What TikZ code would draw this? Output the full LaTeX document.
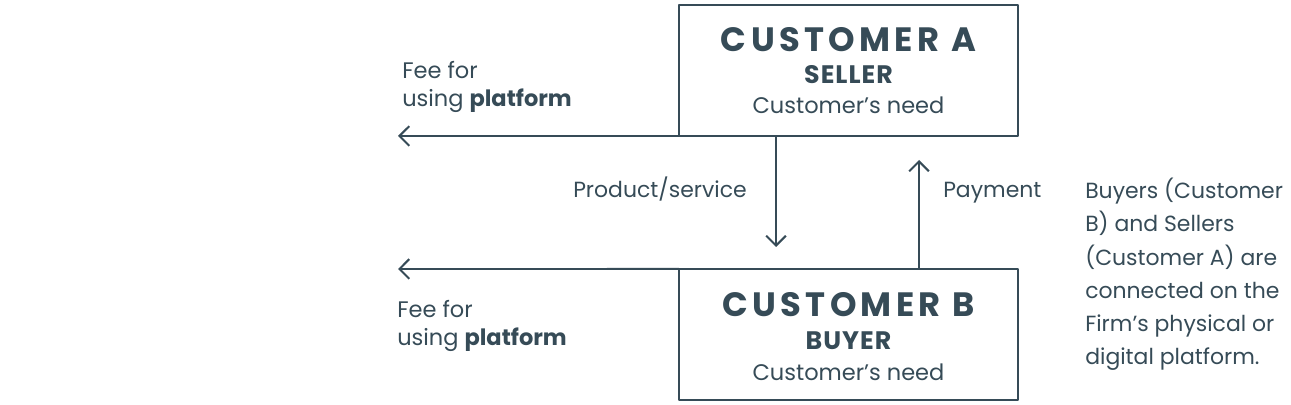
\documentclass[tikz,border=0pt]{standalone}
\usepackage{fontspec}
\setmainfont{Poppins}
\usetikzlibrary{arrows.meta, calc, positioning}
\definecolor{slate}{HTML}{364B57}

\begin{document}
\begin{tikzpicture}[x=0.025cm, y=-0.025cm, >={Straight Barb[length=7pt,width=14pt]},
	line cap=round, line join=round,
	every node/.style={text=slate},
	custbox/.style={draw=slate, line width=1.4pt, minimum width=8.475cm, minimum height=3.275cm, inner sep=0pt, outer sep=0pt},
	flow/.style={draw=slate, line width=1.4pt, ->},
	title/.style={font=\fontsize{24}{28}\selectfont\bfseries\addfontfeatures{LetterSpace=13}, anchor=base},
	role/.style={font=\fontsize{18}{20}\selectfont\bfseries\addfontfeatures{LetterSpace=4}, anchor=base},
	need/.style={font=\fontsize{16}{22}\selectfont, anchor=base},
	fee/.style={font=\fontsize{16}{20.5}\selectfont, anchor=base west, align=left, inner sep=0pt},
	lbl/.style={font=\fontsize{15.6}{23.7}\selectfont, anchor=base west, align=left, inner sep=0pt}]
\useasboundingbox (0,0) rectangle (1291,405);
%========================
% customers
%========================
\node[custbox] (custA) at (848.5,70.5) {};
\node[title] (titleA) at (848.5,52) {CUSTOMER A};
\node[role] (roleA) at (848.5,84) {SELLER};
\node[need] (needA) at (848.5,114) {Customer’s need};

\node[custbox] (custB) at (848.5,334.5) {};
\node[title] (titleB) at (848.5,317) {CUSTOMER B};
\node[role] (roleB) at (848.5,350) {BUYER};
\node[need] (needB) at (848.5,381) {Customer’s need};

%========================
% flows
%========================
\coordinate (feeA) at (398,136);
\coordinate (feeB) at (398,269);
\coordinate (prod) at (776,247);
\coordinate (pay) at (919,160);
\draw[flow] (custA.south west) -- (feeA);
\draw[flow] (custB.north west) -- (feeB);
\draw[flow] (custA.south -| prod) -- (prod);
\draw[flow] (custB.north -| pay) -- (pay);

% labels
\node[fee] (feeTxtA) at (402,107) {Fee for\\using \textbf{platform}};
\node[fee] (feeTxtB) at (397,346) {Fee for\\using \textbf{platform}};
\node[lbl] (prodTxt) at (573,198) {Product/service};
\node[lbl] (payTxt) at (943,198) {Payment};
\node[lbl] (note) at (1085,365) {Buyers (Customer\\B) and Sellers\\(Customer A) are\\connected on the\\Firm’s physical or\\digital platform.};
\end{tikzpicture}
\end{document}
